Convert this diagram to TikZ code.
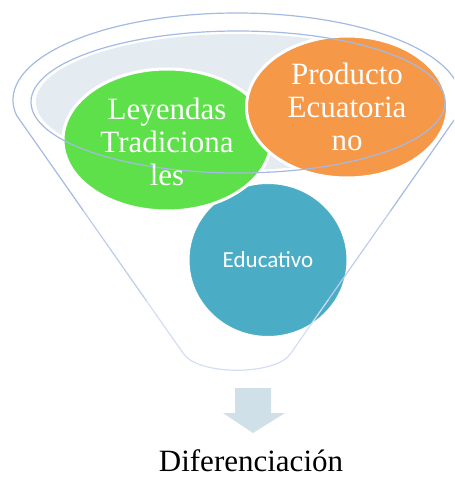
\documentclass[tikz,border=0pt]{standalone}
\usepackage{fontspec}
\setmainfont{Liberation Serif}
\newfontfamily\tnr{Liberation Serif}
\newfontfamily\carl{Carlito}
\definecolor{fgreen}{RGB}{94,224,74}
\definecolor{forange}{RGB}{245,152,72}
\definecolor{fblue}{RGB}{75,172,198}
\definecolor{flight}{RGB}{228,236,242}
\definecolor{fline}{RGB}{164,186,226}
\definecolor{flineb}{RGB}{188,204,236}
\definecolor{flinec}{RGB}{212,222,243}
\definecolor{farrow}{RGB}{207,224,232}
\usetikzlibrary{shapes.geometric}
\tikzset{
  bubble/.style={draw=white, line width=3pt, ellipse, inner sep=0pt},
  funnelline/.style={line width=1.2pt},
  serifbig/.style={text=white, inner sep=0pt},
}
\newcommand{\funnelpath}{(237,100) ++(170:224 and 87) arc[start angle=170, end angle=370, x radius=224, y radius=87]
  -- (291,353) .. controls (277,376) and (197,376) .. (183,353) -- cycle}
\begin{document}
\begin{tikzpicture}[x=1pt,y=-1pt]
\useasboundingbox (0,0) rectangle (454,486);
\begin{scope}
\clip (0,0) rectangle (454,486);
% light top fill
\fill[flight] (238,102) ellipse [x radius=202, y radius=68];
% circles
\node[bubble, fill=fblue, minimum width=160, minimum height=155] (edu) at (268,260) {};
\node[bubble, fill=fgreen, minimum width=208, minimum height=142] (ley) at (167,140) {};
\node[bubble, fill=forange, minimum width=201, minimum height=142] (prod) at (347,107) {};
% funnel outline, fading towards the bottom
\begin{scope}
\clip (-10,-10) rectangle (470,210);
\draw[funnelline, draw=fline] \funnelpath;
\end{scope}
\begin{scope}
\clip (-10,210) rectangle (470,300);
\draw[funnelline, draw=flineb] \funnelpath;
\end{scope}
\begin{scope}
\clip (-10,300) rectangle (470,400);
\draw[funnelline, draw=flinec] \funnelpath;
\end{scope}
\draw[funnelline, draw=fline] (238,102) ellipse [x radius=207, y radius=71];
\end{scope}
% texts
\node[serifbig] (leyt) at (ley) [yshift=-6pt] {\tnr\fontsize{31}{33}\selectfont\begin{tabular}{@{}c@{}}Leyendas\\Tradiciona\\les\end{tabular}};
\node[serifbig] (prodt) at (prod) [yshift=-4pt] {\tnr\fontsize{31}{33}\selectfont\begin{tabular}{@{}c@{}}Producto\\Ecuatoria\\no\end{tabular}};
\node[text=white, font=\carl\fontsize{23}{27}\selectfont] (edut) at (edu) {Educativo};
% arrow
\coordinate (atip) at (253,433);
\fill[farrow] (235,388) -- (271,388) -- (271,413) -- (285,413) -- (atip) -- (223,413) -- (235,413) -- cycle;
\node[font=\tnr\fontsize{31}{34}\selectfont, anchor=base] (dif) at (251,471) {Diferenciación};
\end{tikzpicture}
\end{document}
